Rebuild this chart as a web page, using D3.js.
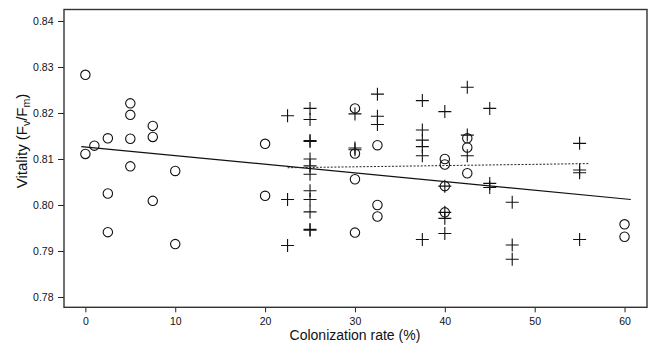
<!DOCTYPE html>
<html>
<head>
<meta charset="utf-8">
<script src="https://cdn.jsdelivr.net/npm/d3@7"></script>
<style>
  html, body { margin: 0; padding: 0; background: #fff; }
  svg { display: block; font-family: "Liberation Sans", Arial, sans-serif; }
</style>
</head>
<body>
<svg id="chart" width="649" height="345"></svg>
<script>
// ---- data ----
const circleX = [0, 0, 1, 2.5, 2.5, 2.5, 5, 5, 5, 5, 7.5, 7.5, 7.5, 10, 10, 20, 20,
  30, 30, 30, 30, 32.5, 32.5, 32.5, 40, 40, 40, 40, 42.5, 42.5, 42.5, 60, 60];
const circleY = [0.8283, 0.8111, 0.8129, 0.8145, 0.8025, 0.7941, 0.8221, 0.8196, 0.8144, 0.8084,
  0.8172, 0.8148, 0.8009, 0.8074, 0.7915, 0.8133, 0.8020,
  0.8210, 0.8112, 0.8056, 0.7940, 0.8130, 0.8000, 0.7975,
  0.8100, 0.8088, 0.8041, 0.7984, 0.8145, 0.8125, 0.8069, 0.7958, 0.7931];

const plusX = [22.5, 22.5, 22.5,
  25, 25, 25, 25, 25, 25, 25, 25, 25, 25, 25, 25,
  30, 30, 30,
  32.5, 32.5, 32.5,
  37.5, 37.5, 37.5, 37.5, 37.5, 37.5,
  40, 40, 40, 40, 40,
  42.5, 42.5, 42.5,
  45, 45, 45,
  47.5, 47.5, 47.5,
  55, 55, 55, 55];
const plusY = [0.8194, 0.8012, 0.7912,
  0.8210, 0.8186, 0.8140, 0.8138, 0.8100, 0.8085, 0.8067, 0.8031, 0.8012, 0.7985, 0.7947, 0.7945,
  0.8198, 0.8124, 0.8120,
  0.8241, 0.8193, 0.8175,
  0.8227, 0.8163, 0.8141, 0.8127, 0.8107, 0.7925,
  0.8203, 0.8041, 0.7984, 0.7971, 0.7938,
  0.8256, 0.8152, 0.8107,
  0.8210, 0.8047, 0.8038,
  0.8006, 0.7913, 0.7882,
  0.8134, 0.8076, 0.8070, 0.7925];

// regression lines (endpoints)
const solidLineX = [-0.46, 60.7];
const solidLineY = [0.8127, 0.8012];
const dottedLineX = [22.5, 56.0];
const dottedLineY = [0.8081, 0.8090];

const xTicks = [0, 10, 20, 30, 40, 50, 60];
const yTicks = [0.78, 0.79, 0.80, 0.81, 0.82, 0.83, 0.84];

const xTitle = "Colonization rate (%)";

// ---- layout ----
const svg = d3.select("#chart");
const box = { left: 64, right: 647, top: 9.5, bottom: 307.3 };

const x = d3.scaleLinear().domain([-2.38, 62.5]).range([box.left, box.right]);
const y = d3.scaleLinear().domain([0.77776, 0.8425]).range([box.bottom, box.top]);

// axes
const xAxis = d3.axisBottom(x).tickValues(xTicks).tickFormat(d3.format("d")).tickSize(5).tickSizeOuter(0);
const yAxis = d3.axisLeft(y).tickValues(yTicks).tickFormat(d3.format(".2f")).tickSize(6).tickSizeOuter(0);

const gx = svg.append("g").attr("transform", `translate(0,${box.bottom})`).call(xAxis);
const gy = svg.append("g").attr("transform", `translate(${box.left},0)`).call(yAxis);
[gx, gy].forEach(g => {
  g.select(".domain").remove();
  g.selectAll(".tick line").attr("stroke", "#222").attr("stroke-width", 1);
  g.selectAll(".tick text").attr("fill", "#111").attr("font-size", 10.5)
    .attr("font-family", "Liberation Sans, Arial, sans-serif");
});
gx.selectAll(".tick text").attr("dy", "0.95em").attr("y", 7.5);
gy.selectAll(".tick text").attr("x", -10.5);

// box
svg.append("rect")
  .attr("x", box.left).attr("y", box.top)
  .attr("width", box.right - box.left).attr("height", box.bottom - box.top)
  .attr("fill", "none").attr("stroke", "#333").attr("stroke-width", 1.4);

// lines
const line = d3.line().x(d => x(d[0])).y(d => y(d[1]));
svg.append("path")
  .datum(solidLineX.map((v, i) => [v, solidLineY[i]]))
  .attr("d", line).attr("fill", "none").attr("stroke", "#111").attr("stroke-width", 1.2);
svg.append("path")
  .datum(dottedLineX.map((v, i) => [v, dottedLineY[i]]))
  .attr("d", line).attr("fill", "none").attr("stroke", "#222").attr("stroke-width", 1)
  .attr("stroke-dasharray", "2,1.6");

// circles
svg.append("g").selectAll("circle")
  .data(circleX.map((v, i) => [v, circleY[i]]))
  .join("circle")
  .attr("cx", d => x(d[0])).attr("cy", d => y(d[1])).attr("r", 4.7)
  .attr("fill", "none").attr("stroke", "#111").attr("stroke-width", 1.1);

// plus signs
svg.append("g").selectAll("path")
  .data(plusX.map((v, i) => [v, plusY[i]]))
  .join("path")
  .attr("transform", d => `translate(${x(d[0])},${y(d[1])})`)
  .attr("d", "M-6.5,0H6.5M0,-6.5V6.5")
  .attr("fill", "none").attr("stroke", "#111").attr("stroke-width", 1.1);

// titles
svg.append("text")
  .attr("x", x(30)).attr("y", 340)
  .attr("text-anchor", "middle").attr("font-size", 14).attr("fill", "#111")
  .text(xTitle);

const yt = svg.append("text")
  .attr("transform", `translate(27,141) rotate(-90)`)
  .attr("text-anchor", "middle").attr("font-size", 15).attr("fill", "#111");
yt.append("tspan").text("Vitality (F");
yt.append("tspan").attr("font-size", 10.5).attr("dy", 3).text("v");
yt.append("tspan").attr("dy", -3).text("/F");
yt.append("tspan").attr("font-size", 10.5).attr("dy", 3).text("m");
yt.append("tspan").attr("dy", -3).text(")");
</script>
</body>
</html>
